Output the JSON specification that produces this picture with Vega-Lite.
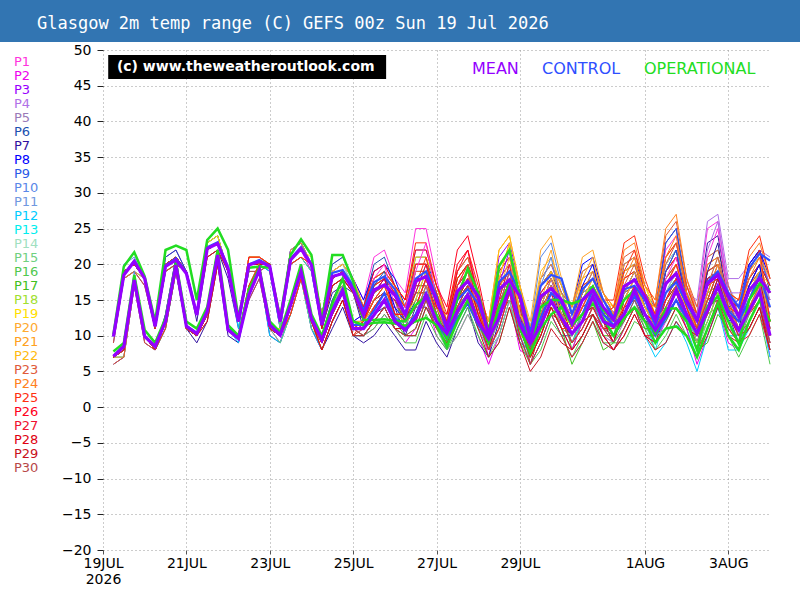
{
"$schema":"https://vega.github.io/schema/vega-lite/v6.json",
"width":667,"height":500,
"autosize":{"type":"none"},
"padding":{"left":103,"top":50,"right":30,"bottom":50},
"background":"white",
"config":{"view":{"stroke":null},"font":"DejaVu Sans"},
"datasets":{
"hi":[
{"h":6,"P1":10,"P2":10,"P3":10,"P4":10,"P5":10,"P6":10,"P7":9,"P8":10,"P9":10,"P10":10,"P11":10,"P12":10,"P13":10,"P14":10,"P15":10,"P16":10,"P17":10,"P18":10,"P19":10,"P20":10,"P21":10,"P22":10,"P23":9,"P24":10,"P25":10,"P26":10,"P27":10,"P28":10,"P29":10,"P30":10,"M":9.9,"C":9.9,"O":10.2},
{"h":12,"P1":19,"P2":19,"P3":19,"P4":19,"P5":18,"P6":19,"P7":18,"P8":19,"P9":19,"P10":20,"P11":19,"P12":18,"P13":19,"P14":19,"P15":19,"P16":19,"P17":19,"P18":19,"P19":19,"P20":19,"P21":19,"P22":18,"P23":18,"P24":19,"P25":19,"P26":19,"P27":19,"P28":19,"P29":19,"P30":19,"M":18.5,"C":18.6,"O":19.7},
{"h":18,"P1":20,"P2":20,"P3":20,"P4":20,"P5":19,"P6":20,"P7":19,"P8":20,"P9":20,"P10":21,"P11":20,"P12":19,"P13":20,"P14":20,"P15":20,"P16":20,"P17":20,"P18":20,"P19":20,"P20":20,"P21":20,"P22":19,"P23":19,"P24":20,"P25":20,"P26":20,"P27":20,"P28":20,"P29":20,"P30":20,"M":20.4,"C":20.5,"O":21.7},
{"h":24,"P1":18,"P2":18,"P3":18,"P4":18,"P5":18,"P6":18,"P7":17,"P8":18,"P9":18,"P10":18,"P11":18,"P12":18,"P13":18,"P14":18,"P15":18,"P16":18,"P17":18,"P18":18,"P19":18,"P20":18,"P21":18,"P22":18,"P23":17,"P24":18,"P25":18,"P26":18,"P27":18,"P28":18,"P29":18,"P30":18,"M":18,"C":18.1,"O":18.3},
{"h":30,"P1":11,"P2":11,"P3":11,"P4":11,"P5":11,"P6":11,"P7":11,"P8":11,"P9":11,"P10":11,"P11":11,"P12":11,"P13":11,"P14":11,"P15":11,"P16":11,"P17":11,"P18":11,"P19":11,"P20":11,"P21":11,"P22":11,"P23":11,"P24":11,"P25":11,"P26":11,"P27":11,"P28":11,"P29":11,"P30":11,"M":11.3,"C":11.4,"O":12},
{"h":36,"P1":20,"P2":20,"P3":21,"P4":20,"P5":20,"P6":21,"P7":19,"P8":20,"P9":20,"P10":20,"P11":20,"P12":19,"P13":20,"P14":20,"P15":20,"P16":19,"P17":20,"P18":20,"P19":20,"P20":20,"P21":20,"P22":20,"P23":20,"P24":20,"P25":19,"P26":20,"P27":20,"P28":20,"P29":20,"P30":20,"M":19.7,"C":19.8,"O":22},
{"h":42,"P1":21,"P2":21,"P3":22,"P4":21,"P5":21,"P6":22,"P7":20,"P8":21,"P9":21,"P10":21,"P11":21,"P12":20,"P13":21,"P14":21,"P15":21,"P16":20,"P17":21,"P18":21,"P19":21,"P20":21,"P21":21,"P22":21,"P23":21,"P24":21,"P25":20,"P26":21,"P27":21,"P28":21,"P29":21,"P30":21,"M":20.6,"C":20.8,"O":22.6},
{"h":48,"P1":19,"P2":19,"P3":19,"P4":19,"P5":19,"P6":19,"P7":19,"P8":19,"P9":19,"P10":19,"P11":19,"P12":19,"P13":19,"P14":19,"P15":19,"P16":19,"P17":19,"P18":19,"P19":19,"P20":19,"P21":19,"P22":19,"P23":19,"P24":19,"P25":19,"P26":19,"P27":19,"P28":19,"P29":19,"P30":19,"M":18.7,"C":18.9,"O":22},
{"h":54,"P1":13,"P2":13,"P3":13,"P4":13,"P5":13,"P6":13,"P7":12,"P8":13,"P9":13,"P10":13,"P11":13,"P12":13,"P13":13,"P14":13,"P15":13,"P16":13,"P17":13,"P18":13,"P19":13,"P20":13,"P21":13,"P22":13,"P23":13,"P24":13,"P25":13,"P26":13,"P27":13,"P28":13,"P29":13,"P30":13,"M":12.9,"C":13,"O":15},
{"h":60,"P1":23,"P2":22,"P3":22,"P4":23,"P5":22,"P6":23,"P7":21,"P8":22,"P9":23,"P10":22,"P11":22,"P12":22,"P13":22,"P14":22,"P15":22,"P16":22,"P17":22,"P18":23,"P19":23,"P20":22,"P21":22,"P22":22,"P23":21,"P24":22,"P25":22,"P26":22,"P27":22,"P28":22,"P29":21,"P30":22,"M":22.2,"C":22.4,"O":23.4},
{"h":66,"P1":24,"P2":23,"P3":23,"P4":24,"P5":23,"P6":24,"P7":22,"P8":23,"P9":24,"P10":23,"P11":23,"P12":23,"P13":23,"P14":23,"P15":23,"P16":23,"P17":23,"P18":24,"P19":24,"P20":23,"P21":23,"P22":23,"P23":22,"P24":23,"P25":23,"P26":23,"P27":23,"P28":23,"P29":22,"P30":23,"M":22.9,"C":23.1,"O":25},
{"h":72,"P1":19,"P2":19,"P3":19,"P4":19,"P5":19,"P6":19,"P7":18,"P8":19,"P9":19,"P10":19,"P11":19,"P12":19,"P13":19,"P14":19,"P15":19,"P16":19,"P17":19,"P18":19,"P19":19,"P20":19,"P21":19,"P22":19,"P23":19,"P24":19,"P25":19,"P26":19,"P27":19,"P28":19,"P29":19,"P30":19,"M":19.4,"C":19.6,"O":22},
{"h":78,"P1":12,"P2":12,"P3":12,"P4":12,"P5":12,"P6":12,"P7":11,"P8":12,"P9":12,"P10":12,"P11":12,"P12":11,"P13":12,"P14":12,"P15":12,"P16":12,"P17":12,"P18":12,"P19":12,"P20":12,"P21":12,"P22":12,"P23":12,"P24":12,"P25":12,"P26":12,"P27":12,"P28":12,"P29":12,"P30":12,"M":12,"C":12.1,"O":12.5},
{"h":84,"P1":20,"P2":19,"P3":20,"P4":20,"P5":20,"P6":21,"P7":20,"P8":21,"P9":20,"P10":20,"P11":19,"P12":20,"P13":20,"P14":21,"P15":20,"P16":20,"P17":20,"P18":20,"P19":21,"P20":21,"P21":20,"P22":21,"P23":20,"P24":20,"P25":20,"P26":21,"P27":20,"P28":20,"P29":20,"P30":19,"M":19.9,"C":20,"O":19.5},
{"h":90,"P1":20,"P2":19,"P3":20,"P4":20,"P5":20,"P6":21,"P7":20,"P8":21,"P9":20,"P10":20,"P11":19,"P12":20,"P13":20,"P14":21,"P15":20,"P16":20,"P17":20,"P18":20,"P19":21,"P20":21,"P21":20,"P22":21,"P23":20,"P24":20,"P25":20,"P26":21,"P27":20,"P28":20,"P29":20,"P30":19,"M":20.4,"C":20.6,"O":19.7},
{"h":96,"P1":20,"P2":20,"P3":20,"P4":20,"P5":20,"P6":20,"P7":19,"P8":20,"P9":20,"P10":20,"P11":20,"P12":19,"P13":20,"P14":20,"P15":20,"P16":20,"P17":20,"P18":20,"P19":20,"P20":20,"P21":20,"P22":20,"P23":20,"P24":20,"P25":20,"P26":20,"P27":20,"P28":20,"P29":20,"P30":20,"M":19.7,"C":19.8,"O":19.5},
{"h":102,"P1":12,"P2":11,"P3":12,"P4":12,"P5":12,"P6":12,"P7":11,"P8":12,"P9":12,"P10":12,"P11":12,"P12":11,"P13":12,"P14":12,"P15":11,"P16":12,"P17":12,"P18":12,"P19":13,"P20":12,"P21":12,"P22":12,"P23":12,"P24":12,"P25":12,"P26":12,"P27":12,"P28":12,"P29":12,"P30":12,"M":12,"C":12.1,"O":12.5},
{"h":108,"P1":21,"P2":21,"P3":22,"P4":22,"P5":21,"P6":21,"P7":20,"P8":22,"P9":22,"P10":21,"P11":21,"P12":20,"P13":21,"P14":21,"P15":20,"P16":21,"P17":21,"P18":21,"P19":21,"P20":21,"P21":22,"P22":21,"P23":20,"P24":21,"P25":20,"P26":21,"P27":21,"P28":21,"P29":21,"P30":21,"M":20.6,"C":20.8,"O":21.3},
{"h":114,"P1":22,"P2":22,"P3":23,"P4":23,"P5":22,"P6":22,"P7":21,"P8":23,"P9":23,"P10":22,"P11":22,"P12":21,"P13":22,"P14":22,"P15":21,"P16":22,"P17":22,"P18":22,"P19":22,"P20":22,"P21":23,"P22":22,"P23":21,"P24":22,"P25":21,"P26":22,"P27":22,"P28":22,"P29":22,"P30":22,"M":22.2,"C":22.4,"O":23.5},
{"h":120,"P1":20,"P2":19,"P3":20,"P4":20,"P5":20,"P6":20,"P7":19,"P8":20,"P9":20,"P10":20,"P11":20,"P12":19,"P13":20,"P14":20,"P15":19,"P16":20,"P17":20,"P18":20,"P19":21,"P20":20,"P21":20,"P22":20,"P23":20,"P24":20,"P25":20,"P26":20,"P27":20,"P28":20,"P29":20,"P30":20,"M":19.9,"C":20,"O":21.3},
{"h":126,"P1":13,"P2":11,"P3":13,"P4":13,"P5":11,"P6":13,"P7":11,"P8":13,"P9":12,"P10":12,"P11":12,"P12":11,"P13":12,"P14":12,"P15":12,"P16":11,"P17":12,"P18":12,"P19":13,"P20":13,"P21":12,"P22":12,"P23":11,"P24":12,"P25":11,"P26":12,"P27":12,"P28":12,"P29":11,"P30":12,"M":11.5,"C":11.8,"O":12},
{"h":132,"P1":19,"P2":17,"P3":19,"P4":20,"P5":17,"P6":20,"P7":16,"P8":19,"P9":18,"P10":19,"P11":18,"P12":17,"P13":18,"P14":19,"P15":18,"P16":17,"P17":18,"P18":18,"P19":19,"P20":19,"P21":18,"P22":18,"P23":17,"P24":18,"P25":17,"P26":18,"P27":18,"P28":18,"P29":17,"P30":18,"M":18.3,"C":18.8,"O":21.3},
{"h":138,"P1":20,"P2":18,"P3":20,"P4":21,"P5":18,"P6":21,"P7":17,"P8":20,"P9":19,"P10":20,"P11":19,"P12":18,"P13":19,"P14":20,"P15":19,"P16":18,"P17":19,"P18":19,"P19":20,"P20":20,"P21":19,"P22":19,"P23":18,"P24":19,"P25":18,"P26":19,"P27":19,"P28":19,"P29":18,"P30":19,"M":18.7,"C":19.2,"O":21.3},
{"h":144,"P1":18,"P2":16,"P3":18,"P4":18,"P5":16,"P6":18,"P7":16,"P8":18,"P9":17,"P10":17,"P11":17,"P12":16,"P13":17,"P14":17,"P15":17,"P16":16,"P17":17,"P18":17,"P19":18,"P20":18,"P21":17,"P22":17,"P23":16,"P24":17,"P25":16,"P26":17,"P27":17,"P28":17,"P29":16,"P30":17,"M":16.5,"C":17,"O":17.6},
{"h":150,"P1":15,"P2":12,"P3":13,"P4":14,"P5":13,"P6":14,"P7":11,"P8":15,"P9":14,"P10":14,"P11":13,"P12":12,"P13":12,"P14":13,"P15":12,"P16":12,"P17":13,"P18":13,"P19":14,"P20":14,"P21":13,"P22":14,"P23":13,"P24":13,"P25":14,"P26":14,"P27":13,"P28":12,"P29":12,"P30":12,"M":12.9,"C":13.5,"O":12.2},
{"h":156,"P1":21,"P2":14,"P3":17,"P4":19,"P5":16,"P6":20,"P7":13,"P8":19,"P9":18,"P10":18,"P11":17,"P12":15,"P13":15,"P14":16,"P15":15,"P16":14,"P17":16,"P18":17,"P19":18,"P20":18,"P21":17,"P22":17,"P23":16,"P24":17,"P25":18,"P26":19,"P27":17,"P28":15,"P29":15,"P30":15,"M":16.4,"C":17.5,"O":12.2},
{"h":162,"P1":22,"P2":15,"P3":18,"P4":20,"P5":17,"P6":21,"P7":14,"P8":20,"P9":19,"P10":19,"P11":18,"P12":16,"P13":16,"P14":17,"P15":16,"P16":15,"P17":17,"P18":18,"P19":19,"P20":19,"P21":18,"P22":18,"P23":17,"P24":18,"P25":19,"P26":20,"P27":18,"P28":16,"P29":16,"P30":16,"M":17.1,"C":18.3,"O":12.3},
{"h":168,"P1":18,"P2":15,"P3":16,"P4":17,"P5":16,"P6":17,"P7":14,"P8":18,"P9":17,"P10":17,"P11":16,"P12":15,"P13":15,"P14":16,"P15":15,"P16":15,"P17":16,"P18":16,"P19":17,"P20":17,"P21":16,"P22":17,"P23":16,"P24":16,"P25":17,"P26":17,"P27":16,"P28":15,"P29":15,"P30":15,"M":15.7,"C":16.5,"O":12.1},
{"h":174,"P1":16,"P2":11,"P3":14,"P4":14,"P5":13,"P6":14,"P7":10,"P8":14,"P9":13,"P10":15,"P11":13,"P12":13,"P13":12,"P14":14,"P15":12,"P16":11,"P17":12,"P18":13,"P19":15,"P20":14,"P21":13,"P22":14,"P23":14,"P24":14,"P25":15,"P26":15,"P27":14,"P28":13,"P29":12,"P30":12,"M":12.9,"C":13,"O":12},
{"h":180,"P1":25,"P2":17,"P3":20,"P4":20,"P5":19,"P6":21,"P7":14,"P8":20,"P9":19,"P10":22,"P11":18,"P12":18,"P13":16,"P14":19,"P15":16,"P16":15,"P17":17,"P18":18,"P19":21,"P20":20,"P21":18,"P22":20,"P23":19,"P24":20,"P25":23,"P26":22,"P27":20,"P28":18,"P29":16,"P30":17,"M":17.6,"C":18,"O":14.3},
{"h":186,"P1":25,"P2":17,"P3":20,"P4":20,"P5":19,"P6":21,"P7":14,"P8":20,"P9":19,"P10":22,"P11":18,"P12":18,"P13":16,"P14":19,"P15":16,"P16":15,"P17":17,"P18":18,"P19":21,"P20":20,"P21":18,"P22":20,"P23":19,"P24":20,"P25":23,"P26":22,"P27":20,"P28":18,"P29":16,"P30":17,"M":18.3,"C":19,"O":15.5},
{"h":192,"P1":18,"P2":13,"P3":16,"P4":16,"P5":15,"P6":16,"P7":12,"P8":16,"P9":15,"P10":17,"P11":15,"P12":15,"P13":14,"P14":16,"P15":14,"P16":13,"P17":14,"P18":15,"P19":17,"P20":16,"P21":15,"P22":16,"P23":16,"P24":16,"P25":17,"P26":17,"P27":16,"P28":15,"P29":14,"P30":14,"M":15,"C":15.5,"O":12.9},
{"h":198,"P1":12,"P2":9,"P3":12,"P4":11,"P5":12,"P6":11,"P7":8,"P8":11,"P9":10,"P10":12,"P11":10,"P12":11,"P13":11,"P14":12,"P15":9,"P16":9,"P17":11,"P18":10,"P19":12,"P20":12,"P21":12,"P22":12,"P23":12,"P24":11,"P25":13,"P26":14,"P27":11,"P28":12,"P29":10,"P30":11,"M":11.3,"C":10.5,"O":9.6},
{"h":204,"P1":20,"P2":13,"P3":19,"P4":16,"P5":18,"P6":17,"P7":14,"P8":17,"P9":15,"P10":18,"P11":15,"P12":17,"P13":15,"P14":18,"P15":13,"P16":14,"P17":16,"P18":15,"P19":18,"P20":17,"P21":18,"P22":19,"P23":19,"P24":16,"P25":20,"P26":22,"P27":17,"P28":18,"P29":15,"P30":16,"M":16.2,"C":15,"O":15.2},
{"h":210,"P1":22,"P2":15,"P3":21,"P4":18,"P5":20,"P6":19,"P7":16,"P8":19,"P9":17,"P10":20,"P11":17,"P12":19,"P13":17,"P14":20,"P15":15,"P16":16,"P17":18,"P18":17,"P19":20,"P20":19,"P21":20,"P22":21,"P23":21,"P24":18,"P25":22,"P26":24,"P27":19,"P28":20,"P29":17,"P30":18,"M":17.6,"C":16.5,"O":19.4},
{"h":216,"P1":16,"P2":13,"P3":16,"P4":15,"P5":16,"P6":15,"P7":12,"P8":15,"P9":14,"P10":16,"P11":14,"P12":15,"P13":15,"P14":16,"P15":13,"P16":13,"P17":15,"P18":14,"P19":16,"P20":16,"P21":16,"P22":16,"P23":16,"P24":15,"P25":17,"P26":18,"P27":15,"P28":16,"P29":14,"P30":15,"M":15.5,"C":14.5,"O":16},
{"h":222,"P1":11,"P2":7,"P3":12,"P4":10,"P5":10,"P6":9,"P7":8,"P8":10,"P9":11,"P10":12,"P11":9,"P12":9,"P13":10,"P14":11,"P15":8,"P16":8,"P17":10,"P18":10,"P19":10,"P20":12,"P21":12,"P22":12,"P23":11,"P24":9,"P25":10,"P26":11,"P27":9,"P28":10,"P29":8,"P30":10,"M":10.1,"C":10.5,"O":10.5},
{"h":228,"P1":18,"P2":14,"P3":21,"P4":17,"P5":17,"P6":15,"P7":16,"P8":16,"P9":18,"P10":19,"P11":14,"P12":15,"P13":16,"P14":19,"P15":14,"P16":13,"P17":17,"P18":16,"P19":17,"P20":20,"P21":22,"P22":22,"P23":18,"P24":15,"P25":17,"P26":19,"P27":15,"P28":17,"P29":13,"P30":17,"M":16.5,"C":17.5,"O":19.7},
{"h":234,"P1":20,"P2":16,"P3":23,"P4":19,"P5":19,"P6":17,"P7":18,"P8":18,"P9":20,"P10":21,"P11":16,"P12":17,"P13":18,"P14":21,"P15":16,"P16":15,"P17":19,"P18":18,"P19":19,"P20":22,"P21":24,"P22":24,"P23":20,"P24":17,"P25":19,"P26":21,"P27":17,"P28":19,"P29":15,"P30":19,"M":17.8,"C":19,"O":22},
{"h":240,"P1":16,"P2":12,"P3":17,"P4":15,"P5":15,"P6":14,"P7":13,"P8":15,"P9":16,"P10":17,"P11":14,"P12":14,"P13":15,"P14":16,"P15":13,"P16":13,"P17":15,"P18":15,"P19":15,"P20":17,"P21":17,"P22":17,"P23":16,"P24":14,"P25":15,"P26":16,"P27":14,"P28":15,"P29":13,"P30":15,"M":15.5,"C":16,"O":15.5},
{"h":246,"P1":9,"P2":8,"P3":10,"P4":10,"P5":8,"P6":7,"P7":9,"P8":10,"P9":11,"P10":11,"P11":8,"P12":7,"P13":9,"P14":9,"P15":8,"P16":7,"P17":8,"P18":10,"P19":9,"P20":12,"P21":11,"P22":11,"P23":9,"P24":10,"P25":8,"P26":9,"P27":7,"P28":8,"P29":6,"P30":9,"M":9.4,"C":10.5,"O":8.5},
{"h":252,"P1":16,"P2":16,"P3":18,"P4":17,"P5":14,"P6":13,"P7":17,"P8":17,"P9":18,"P10":21,"P11":14,"P12":13,"P13":16,"P14":16,"P15":15,"P16":12,"P17":14,"P18":17,"P19":15,"P20":22,"P21":18,"P22":19,"P23":15,"P24":17,"P25":14,"P26":16,"P27":13,"P28":14,"P29":11,"P30":15,"M":15.5,"C":17,"O":14},
{"h":258,"P1":18,"P2":18,"P3":20,"P4":19,"P5":16,"P6":15,"P7":19,"P8":19,"P9":20,"P10":23,"P11":16,"P12":15,"P13":18,"P14":18,"P15":17,"P16":14,"P17":16,"P18":19,"P19":17,"P20":24,"P21":20,"P22":21,"P23":17,"P24":19,"P25":16,"P26":18,"P27":15,"P28":16,"P29":13,"P30":17,"M":16.6,"C":18.5,"O":15},
{"h":264,"P1":15,"P2":14,"P3":16,"P4":16,"P5":14,"P6":13,"P7":15,"P8":16,"P9":17,"P10":17,"P11":14,"P12":13,"P13":15,"P14":15,"P15":14,"P16":13,"P17":14,"P18":16,"P19":15,"P20":18,"P21":17,"P22":17,"P23":15,"P24":16,"P25":14,"P26":15,"P27":13,"P28":14,"P29":12,"P30":15,"M":15,"C":18,"O":15},
{"h":270,"P1":13,"P2":10,"P3":12,"P4":12,"P5":10,"P6":12,"P7":12,"P8":14,"P9":13,"P10":13,"P11":12,"P12":9,"P13":11,"P14":11,"P15":12,"P16":9,"P17":8,"P18":12,"P19":14,"P20":14,"P21":14,"P22":13,"P23":11,"P24":14,"P25":13,"P26":11,"P27":9,"P28":10,"P29":10,"P30":11,"M":11.7,"C":13,"O":14.5},
{"h":276,"P1":17,"P2":15,"P3":16,"P4":16,"P5":13,"P6":16,"P7":16,"P8":20,"P9":19,"P10":17,"P11":16,"P12":12,"P13":15,"P14":14,"P15":16,"P16":13,"P17":12,"P18":15,"P19":18,"P20":18,"P21":21,"P22":17,"P23":14,"P24":19,"P25":17,"P26":14,"P27":12,"P28":13,"P29":13,"P30":14,"M":15,"C":16.5,"O":15},
{"h":282,"P1":18,"P2":16,"P3":17,"P4":17,"P5":14,"P6":17,"P7":17,"P8":21,"P9":20,"P10":18,"P11":17,"P12":13,"P13":16,"P14":15,"P15":17,"P16":14,"P17":13,"P18":16,"P19":19,"P20":19,"P21":22,"P22":18,"P23":15,"P24":20,"P25":18,"P26":15,"P27":13,"P28":14,"P29":14,"P30":15,"M":16.4,"C":18,"O":16.9},
{"h":288,"P1":15,"P2":12,"P3":14,"P4":14,"P5":12,"P6":14,"P7":14,"P8":16,"P9":15,"P10":15,"P11":14,"P12":11,"P13":13,"P14":13,"P15":14,"P16":11,"P17":10,"P18":14,"P19":16,"P20":16,"P21":16,"P22":15,"P23":13,"P24":16,"P25":15,"P26":13,"P27":11,"P28":12,"P29":12,"P30":13,"M":14,"C":15,"O":13.6},
{"h":294,"P1":13,"P2":9,"P3":11,"P4":13,"P5":10,"P6":13,"P7":11,"P8":13,"P9":13,"P10":12,"P11":13,"P12":9,"P13":11,"P14":12,"P15":12,"P16":10,"P17":10,"P18":13,"P19":14,"P20":13,"P21":13,"P22":14,"P23":14,"P24":14,"P25":15,"P26":12,"P27":9,"P28":9,"P29":9,"P30":11,"M":12.2,"C":12.5,"O":12.2},
{"h":300,"P1":20,"P2":15,"P3":17,"P4":19,"P5":16,"P6":19,"P7":17,"P8":20,"P9":19,"P10":17,"P11":19,"P12":15,"P13":16,"P14":18,"P15":17,"P16":13,"P17":15,"P18":18,"P19":19,"P20":18,"P21":19,"P22":20,"P23":21,"P24":22,"P25":23,"P26":18,"P27":15,"P28":14,"P29":14,"P30":16,"M":16.9,"C":16.5,"O":15},
{"h":306,"P1":21,"P2":16,"P3":18,"P4":20,"P5":17,"P6":20,"P7":18,"P8":21,"P9":20,"P10":18,"P11":20,"P12":16,"P13":17,"P14":19,"P15":18,"P16":14,"P17":16,"P18":19,"P19":20,"P20":19,"P21":20,"P22":21,"P23":22,"P24":23,"P25":24,"P26":19,"P27":16,"P28":15,"P29":15,"P30":17,"M":17.8,"C":17,"O":16.4},
{"h":312,"P1":16,"P2":12,"P3":14,"P4":16,"P5":13,"P6":16,"P7":14,"P8":16,"P9":16,"P10":15,"P11":16,"P12":12,"P13":14,"P14":15,"P15":15,"P16":13,"P17":13,"P18":16,"P19":17,"P20":16,"P21":16,"P22":17,"P23":17,"P24":17,"P25":18,"P26":15,"P27":12,"P28":12,"P29":12,"P30":14,"M":15.5,"C":15,"O":13},
{"h":318,"P1":14,"P2":10,"P3":12,"P4":13,"P5":11,"P6":13,"P7":13,"P8":13,"P9":14,"P10":11,"P11":12,"P12":8,"P13":11,"P14":13,"P15":11,"P16":9,"P17":12,"P18":13,"P19":13,"P20":13,"P21":12,"P22":14,"P23":15,"P24":15,"P25":14,"P26":13,"P27":11,"P28":10,"P29":9,"P30":12,"M":12.2,"C":11.5,"O":10.3},
{"h":324,"P1":22,"P2":16,"P3":19,"P4":21,"P5":17,"P6":20,"P7":23,"P8":19,"P9":23,"P10":16,"P11":18,"P12":13,"P13":15,"P14":20,"P15":15,"P16":14,"P17":16,"P18":19,"P19":18,"P20":19,"P21":18,"P22":21,"P23":24,"P24":25,"P25":21,"P26":19,"P27":17,"P28":15,"P29":13,"P30":18,"M":17.3,"C":16,"O":13.8},
{"h":330,"P1":24,"P2":18,"P3":21,"P4":23,"P5":19,"P6":22,"P7":25,"P8":21,"P9":25,"P10":18,"P11":20,"P12":15,"P13":17,"P14":22,"P15":17,"P16":16,"P17":18,"P18":21,"P19":20,"P20":21,"P21":20,"P22":23,"P23":26,"P24":27,"P25":23,"P26":21,"P27":19,"P28":17,"P29":15,"P30":20,"M":18.7,"C":17.5,"O":13.8},
{"h":336,"P1":17,"P2":13,"P3":15,"P4":16,"P5":14,"P6":16,"P7":16,"P8":16,"P9":17,"P10":14,"P11":15,"P12":11,"P13":14,"P14":16,"P15":14,"P16":12,"P17":15,"P18":16,"P19":16,"P20":16,"P21":15,"P22":17,"P23":18,"P24":18,"P25":17,"P26":16,"P27":14,"P28":13,"P29":12,"P30":15,"M":15,"C":14.5,"O":12},
{"h":342,"P1":14,"P2":8,"P3":12,"P4":15,"P5":12,"P6":12,"P7":13,"P8":11,"P9":13,"P10":12,"P11":11,"P12":7,"P13":12,"P14":14,"P15":10,"P16":9,"P17":10,"P18":11,"P19":12,"P20":13,"P21":13,"P22":13,"P23":14,"P24":13,"P25":13,"P26":12,"P27":10,"P28":12,"P29":9,"P30":13,"M":12.2,"C":12,"O":8},
{"h":348,"P1":25,"P2":14,"P3":18,"P4":26,"P5":19,"P6":18,"P7":23,"P8":16,"P9":20,"P10":18,"P11":17,"P12":14,"P13":17,"P14":21,"P15":16,"P16":15,"P17":13,"P18":16,"P19":17,"P20":20,"P21":19,"P22":19,"P23":21,"P24":20,"P25":19,"P26":17,"P27":15,"P28":18,"P29":14,"P30":19,"M":17.3,"C":17.5,"O":14},
{"h":354,"P1":26,"P2":15,"P3":19,"P4":27,"P5":20,"P6":19,"P7":24,"P8":17,"P9":21,"P10":19,"P11":18,"P12":15,"P13":18,"P14":22,"P15":17,"P16":16,"P17":14,"P18":17,"P19":18,"P20":21,"P21":20,"P22":20,"P23":22,"P24":21,"P25":20,"P26":18,"P27":16,"P28":19,"P29":15,"P30":20,"M":18.5,"C":19,"O":15.5},
{"h":360,"P1":17,"P2":11,"P3":15,"P4":18,"P5":15,"P6":15,"P7":16,"P8":14,"P9":16,"P10":15,"P11":14,"P12":10,"P13":15,"P14":17,"P15":13,"P16":12,"P17":13,"P18":14,"P19":15,"P20":16,"P21":16,"P22":16,"P23":17,"P24":16,"P25":16,"P26":15,"P27":13,"P28":15,"P29":12,"P30":16,"M":15.5,"C":16,"O":12},
{"h":366,"P1":14,"P2":10,"P3":12,"P4":18,"P5":14,"P6":11,"P7":13,"P8":15,"P9":14,"P10":14,"P11":11,"P12":10,"P13":13,"P14":14,"P15":12,"P16":9,"P17":11,"P18":13,"P19":14,"P20":13,"P21":13,"P22":15,"P23":13,"P24":15,"P25":15,"P26":12,"P27":11,"P28":14,"P29":11,"P30":12,"M":12.7,"C":14,"O":8.9},
{"h":372,"P1":20,"P2":15,"P3":16,"P4":20,"P5":19,"P6":15,"P7":20,"P8":20,"P9":18,"P10":19,"P11":15,"P12":14,"P13":17,"P14":18,"P15":16,"P16":13,"P17":14,"P18":16,"P19":17,"P20":17,"P21":16,"P22":19,"P23":17,"P24":21,"P25":22,"P26":14,"P27":13,"P28":18,"P29":14,"P30":15,"M":16.4,"C":19.5,"O":15},
{"h":378,"P1":22,"P2":17,"P3":18,"P4":22,"P5":21,"P6":17,"P7":22,"P8":22,"P9":20,"P10":21,"P11":17,"P12":16,"P13":19,"P14":20,"P15":18,"P16":15,"P17":16,"P18":18,"P19":19,"P20":19,"P21":18,"P22":21,"P23":19,"P24":23,"P25":24,"P26":16,"P27":15,"P28":20,"P29":16,"P30":17,"M":18,"C":21.5,"O":17.3},
{"h":384,"P1":17,"P2":13,"P3":15,"P4":21,"P5":17,"P6":14,"P7":16,"P8":18,"P9":17,"P10":17,"P11":14,"P12":13,"P13":16,"P14":17,"P15":15,"P16":12,"P17":14,"P18":16,"P19":17,"P20":16,"P21":16,"P22":18,"P23":16,"P24":18,"P25":18,"P26":15,"P27":14,"P28":17,"P29":14,"P30":15,"M":16,"C":20.5,"O":16.4}
],
"lo":[
{"h":6,"P1":7,"P2":7,"P3":7,"P4":7,"P5":7,"P6":7,"P7":6,"P8":7,"P9":7,"P10":7,"P11":7,"P12":7,"P13":7,"P14":7,"P15":7,"P16":7,"P17":7,"P18":7,"P19":7,"P20":7,"P21":7,"P22":7,"P23":6,"P24":7,"P25":7,"P26":7,"P27":7,"P28":7,"P29":7,"P30":7,"M":7.1,"C":7.2,"O":7.8},
{"h":12,"P1":8,"P2":8,"P3":8,"P4":8,"P5":7,"P6":8,"P7":7,"P8":8,"P9":8,"P10":9,"P11":8,"P12":7,"P13":8,"P14":8,"P15":8,"P16":8,"P17":8,"P18":8,"P19":8,"P20":8,"P21":8,"P22":7,"P23":7,"P24":8,"P25":8,"P26":8,"P27":8,"P28":8,"P29":8,"P30":8,"M":8.5,"C":8.6,"O":9},
{"h":18,"P1":18,"P2":18,"P3":18,"P4":18,"P5":17,"P6":18,"P7":17,"P8":18,"P9":18,"P10":19,"P11":18,"P12":17,"P13":18,"P14":18,"P15":18,"P16":18,"P17":18,"P18":18,"P19":18,"P20":18,"P21":18,"P22":17,"P23":17,"P24":18,"P25":18,"P26":18,"P27":18,"P28":18,"P29":18,"P30":18,"M":17.8,"C":17.9,"O":18.5},
{"h":24,"P1":10,"P2":10,"P3":10,"P4":10,"P5":10,"P6":10,"P7":9,"P8":10,"P9":10,"P10":10,"P11":10,"P12":10,"P13":10,"P14":10,"P15":10,"P16":10,"P17":10,"P18":10,"P19":10,"P20":10,"P21":10,"P22":10,"P23":9,"P24":10,"P25":10,"P26":10,"P27":10,"P28":10,"P29":10,"P30":10,"M":9.9,"C":10,"O":10.8},
{"h":30,"P1":8,"P2":8,"P3":8,"P4":8,"P5":8,"P6":8,"P7":8,"P8":8,"P9":8,"P10":8,"P11":8,"P12":8,"P13":8,"P14":8,"P15":8,"P16":8,"P17":8,"P18":8,"P19":8,"P20":8,"P21":8,"P22":8,"P23":8,"P24":8,"P25":8,"P26":8,"P27":8,"P28":8,"P29":8,"P30":8,"M":8.5,"C":8.6,"O":9},
{"h":36,"P1":12,"P2":12,"P3":13,"P4":12,"P5":12,"P6":13,"P7":11,"P8":12,"P9":12,"P10":12,"P11":12,"P12":11,"P13":12,"P14":12,"P15":12,"P16":11,"P17":12,"P18":12,"P19":12,"P20":12,"P21":12,"P22":12,"P23":12,"P24":12,"P25":11,"P26":12,"P27":12,"P28":12,"P29":12,"P30":12,"M":12,"C":12.1,"O":12.5},
{"h":42,"P1":20,"P2":20,"P3":21,"P4":20,"P5":20,"P6":21,"P7":19,"P8":20,"P9":20,"P10":20,"P11":20,"P12":19,"P13":20,"P14":20,"P15":20,"P16":19,"P17":20,"P18":20,"P19":20,"P20":20,"P21":20,"P22":20,"P23":20,"P24":20,"P25":19,"P26":20,"P27":20,"P28":20,"P29":20,"P30":20,"M":19.9,"C":20,"O":20.3},
{"h":48,"P1":11,"P2":11,"P3":11,"P4":11,"P5":11,"P6":11,"P7":11,"P8":11,"P9":11,"P10":11,"P11":11,"P12":11,"P13":11,"P14":11,"P15":11,"P16":11,"P17":11,"P18":11,"P19":11,"P20":11,"P21":11,"P22":11,"P23":11,"P24":11,"P25":11,"P26":11,"P27":11,"P28":11,"P29":11,"P30":11,"M":11.3,"C":11.4,"O":12},
{"h":54,"P1":10,"P2":10,"P3":10,"P4":10,"P5":10,"P6":10,"P7":9,"P8":10,"P9":10,"P10":10,"P11":10,"P12":10,"P13":10,"P14":10,"P15":10,"P16":10,"P17":10,"P18":10,"P19":10,"P20":10,"P21":10,"P22":10,"P23":10,"P24":10,"P25":10,"P26":10,"P27":10,"P28":10,"P29":10,"P30":10,"M":10.3,"C":10.4,"O":11},
{"h":60,"P1":14,"P2":13,"P3":13,"P4":14,"P5":13,"P6":14,"P7":12,"P8":13,"P9":14,"P10":13,"P11":13,"P12":13,"P13":13,"P14":13,"P15":13,"P16":13,"P17":13,"P18":14,"P19":14,"P20":13,"P21":13,"P22":13,"P23":12,"P24":13,"P25":13,"P26":13,"P27":13,"P28":13,"P29":12,"P30":13,"M":13.4,"C":13.6,"O":14},
{"h":66,"P1":22,"P2":21,"P3":21,"P4":22,"P5":21,"P6":22,"P7":20,"P8":21,"P9":22,"P10":21,"P11":21,"P12":21,"P13":21,"P14":21,"P15":21,"P16":21,"P17":21,"P18":22,"P19":22,"P20":21,"P21":21,"P22":21,"P23":20,"P24":21,"P25":21,"P26":21,"P27":21,"P28":21,"P29":20,"P30":21,"M":21.3,"C":21.4,"O":22},
{"h":72,"P1":11,"P2":11,"P3":11,"P4":11,"P5":11,"P6":11,"P7":10,"P8":11,"P9":11,"P10":11,"P11":11,"P12":11,"P13":11,"P14":11,"P15":11,"P16":11,"P17":11,"P18":11,"P19":11,"P20":11,"P21":11,"P22":11,"P23":11,"P24":11,"P25":11,"P26":11,"P27":11,"P28":11,"P29":11,"P30":11,"M":10.8,"C":11,"O":11.5},
{"h":78,"P1":10,"P2":10,"P3":10,"P4":10,"P5":10,"P6":10,"P7":9,"P8":10,"P9":10,"P10":10,"P11":10,"P12":9,"P13":10,"P14":10,"P15":10,"P16":10,"P17":10,"P18":10,"P19":10,"P20":10,"P21":10,"P22":10,"P23":10,"P24":10,"P25":10,"P26":10,"P27":10,"P28":10,"P29":10,"P30":10,"M":9.6,"C":9.7,"O":10},
{"h":84,"P1":16,"P2":15,"P3":16,"P4":16,"P5":16,"P6":17,"P7":16,"P8":17,"P9":16,"P10":16,"P11":15,"P12":16,"P13":16,"P14":17,"P15":16,"P16":16,"P17":16,"P18":16,"P19":17,"P20":17,"P21":16,"P22":17,"P23":16,"P24":16,"P25":16,"P26":17,"P27":16,"P28":16,"P29":16,"P30":15,"M":15.7,"C":15.8,"O":16.5},
{"h":90,"P1":19,"P2":18,"P3":19,"P4":19,"P5":19,"P6":20,"P7":19,"P8":20,"P9":19,"P10":19,"P11":18,"P12":19,"P13":19,"P14":20,"P15":19,"P16":19,"P17":19,"P18":19,"P19":20,"P20":20,"P21":19,"P22":20,"P23":19,"P24":19,"P25":19,"P26":20,"P27":19,"P28":19,"P29":19,"P30":18,"M":19.2,"C":19.3,"O":19.5},
{"h":96,"P1":11,"P2":11,"P3":11,"P4":11,"P5":11,"P6":11,"P7":10,"P8":11,"P9":11,"P10":11,"P11":11,"P12":10,"P13":11,"P14":11,"P15":11,"P16":11,"P17":11,"P18":11,"P19":11,"P20":11,"P21":11,"P22":11,"P23":11,"P24":11,"P25":11,"P26":11,"P27":11,"P28":11,"P29":11,"P30":11,"M":11.5,"C":11.6,"O":12},
{"h":102,"P1":10,"P2":9,"P3":10,"P4":10,"P5":10,"P6":10,"P7":9,"P8":10,"P9":10,"P10":10,"P11":10,"P12":9,"P13":10,"P14":10,"P15":9,"P16":10,"P17":10,"P18":10,"P19":11,"P20":10,"P21":10,"P22":10,"P23":10,"P24":10,"P25":10,"P26":10,"P27":10,"P28":10,"P29":10,"P30":10,"M":10.1,"C":10.2,"O":10.5},
{"h":108,"P1":14,"P2":14,"P3":15,"P4":15,"P5":14,"P6":14,"P7":13,"P8":15,"P9":15,"P10":14,"P11":14,"P12":13,"P13":14,"P14":14,"P15":13,"P16":14,"P17":14,"P18":14,"P19":14,"P20":14,"P21":15,"P22":14,"P23":13,"P24":14,"P25":13,"P26":14,"P27":14,"P28":14,"P29":14,"P30":14,"M":14.3,"C":14.5,"O":15},
{"h":114,"P1":19,"P2":19,"P3":20,"P4":20,"P5":19,"P6":19,"P7":18,"P8":20,"P9":20,"P10":19,"P11":19,"P12":18,"P13":19,"P14":19,"P15":18,"P16":19,"P17":19,"P18":19,"P19":19,"P20":19,"P21":20,"P22":19,"P23":18,"P24":19,"P25":18,"P26":19,"P27":19,"P28":19,"P29":19,"P30":19,"M":19,"C":19.2,"O":20},
{"h":120,"P1":12,"P2":11,"P3":12,"P4":12,"P5":12,"P6":12,"P7":11,"P8":12,"P9":12,"P10":12,"P11":12,"P12":11,"P13":12,"P14":12,"P15":11,"P16":12,"P17":12,"P18":12,"P19":13,"P20":12,"P21":12,"P22":12,"P23":12,"P24":12,"P25":12,"P26":12,"P27":12,"P28":12,"P29":12,"P30":12,"M":12.4,"C":12.5,"O":13},
{"h":126,"P1":10,"P2":8,"P3":10,"P4":10,"P5":8,"P6":10,"P7":8,"P8":10,"P9":9,"P10":9,"P11":9,"P12":8,"P13":9,"P14":9,"P15":9,"P16":8,"P17":9,"P18":9,"P19":10,"P20":10,"P21":9,"P22":9,"P23":8,"P24":9,"P25":8,"P26":9,"P27":9,"P28":9,"P29":8,"P30":9,"M":9.4,"C":9.6,"O":10},
{"h":132,"P1":14,"P2":12,"P3":14,"P4":15,"P5":12,"P6":15,"P7":11,"P8":14,"P9":13,"P10":14,"P11":13,"P12":12,"P13":13,"P14":14,"P15":13,"P16":12,"P17":13,"P18":13,"P19":14,"P20":14,"P21":13,"P22":13,"P23":12,"P24":13,"P25":12,"P26":13,"P27":13,"P28":13,"P29":12,"P30":13,"M":13.4,"C":13.8,"O":14.5},
{"h":138,"P1":17,"P2":15,"P3":17,"P4":18,"P5":15,"P6":18,"P7":14,"P8":17,"P9":16,"P10":17,"P11":16,"P12":15,"P13":16,"P14":17,"P15":16,"P16":15,"P17":16,"P18":16,"P19":17,"P20":17,"P21":16,"P22":16,"P23":15,"P24":16,"P25":15,"P26":16,"P27":16,"P28":16,"P29":15,"P30":16,"M":16.2,"C":16.6,"O":18},
{"h":144,"P1":12,"P2":10,"P3":12,"P4":12,"P5":10,"P6":12,"P7":10,"P8":12,"P9":11,"P10":11,"P11":11,"P12":10,"P13":11,"P14":11,"P15":11,"P16":10,"P17":11,"P18":11,"P19":12,"P20":12,"P21":11,"P22":11,"P23":10,"P24":11,"P25":10,"P26":11,"P27":11,"P28":11,"P29":10,"P30":11,"M":11,"C":11.5,"O":12},
{"h":150,"P1":13,"P2":10,"P3":11,"P4":12,"P5":11,"P6":12,"P7":9,"P8":13,"P9":12,"P10":12,"P11":11,"P12":10,"P13":10,"P14":11,"P15":10,"P16":10,"P17":11,"P18":11,"P19":12,"P20":12,"P21":11,"P22":12,"P23":11,"P24":11,"P25":12,"P26":12,"P27":11,"P28":10,"P29":10,"P30":10,"M":11,"C":11.5,"O":11.5},
{"h":156,"P1":18,"P2":11,"P3":14,"P4":16,"P5":13,"P6":17,"P7":10,"P8":16,"P9":15,"P10":15,"P11":14,"P12":12,"P13":12,"P14":13,"P15":12,"P16":11,"P17":13,"P18":14,"P19":15,"P20":15,"P21":14,"P22":14,"P23":13,"P24":14,"P25":15,"P26":16,"P27":14,"P28":12,"P29":12,"P30":12,"M":12.9,"C":13.5,"O":11.8},
{"h":162,"P1":20,"P2":13,"P3":16,"P4":18,"P5":15,"P6":19,"P7":12,"P8":18,"P9":17,"P10":17,"P11":16,"P12":14,"P13":14,"P14":15,"P15":14,"P16":13,"P17":15,"P18":16,"P19":17,"P20":17,"P21":16,"P22":16,"P23":15,"P24":16,"P25":17,"P26":18,"P27":16,"P28":14,"P29":14,"P30":14,"M":15,"C":16,"O":11.9},
{"h":168,"P1":14,"P2":11,"P3":12,"P4":13,"P5":12,"P6":13,"P7":10,"P8":14,"P9":13,"P10":13,"P11":12,"P12":11,"P13":11,"P14":12,"P15":11,"P16":11,"P17":12,"P18":12,"P19":13,"P20":13,"P21":12,"P22":13,"P23":12,"P24":12,"P25":13,"P26":13,"P27":12,"P28":11,"P29":11,"P30":11,"M":12,"C":12.5,"O":11.7},
{"h":174,"P1":14,"P2":9,"P3":12,"P4":12,"P5":11,"P6":12,"P7":8,"P8":12,"P9":11,"P10":13,"P11":11,"P12":11,"P13":10,"P14":12,"P15":10,"P16":9,"P17":10,"P18":11,"P19":13,"P20":12,"P21":11,"P22":12,"P23":12,"P24":12,"P25":13,"P26":13,"P27":12,"P28":11,"P29":10,"P30":10,"M":10.8,"C":11,"O":11.4},
{"h":180,"P1":19,"P2":11,"P3":14,"P4":14,"P5":13,"P6":15,"P7":8,"P8":14,"P9":13,"P10":16,"P11":12,"P12":12,"P13":10,"P14":13,"P15":10,"P16":9,"P17":11,"P18":12,"P19":15,"P20":14,"P21":12,"P22":14,"P23":13,"P24":14,"P25":17,"P26":16,"P27":14,"P28":12,"P29":10,"P30":11,"M":12.5,"C":13,"O":12},
{"h":186,"P1":23,"P2":15,"P3":18,"P4":18,"P5":17,"P6":19,"P7":12,"P8":18,"P9":17,"P10":20,"P11":16,"P12":16,"P13":14,"P14":17,"P15":14,"P16":13,"P17":15,"P18":16,"P19":19,"P20":18,"P21":16,"P22":18,"P23":17,"P24":18,"P25":21,"P26":20,"P27":18,"P28":16,"P29":14,"P30":15,"M":15.7,"C":16,"O":12.5},
{"h":192,"P1":15,"P2":10,"P3":13,"P4":13,"P5":12,"P6":13,"P7":9,"P8":13,"P9":12,"P10":14,"P11":12,"P12":12,"P13":11,"P14":13,"P15":11,"P16":10,"P17":11,"P18":12,"P19":14,"P20":13,"P21":12,"P22":13,"P23":13,"P24":13,"P25":14,"P26":14,"P27":13,"P28":12,"P29":11,"P30":11,"M":12,"C":12,"O":11.5},
{"h":198,"P1":11,"P2":8,"P3":11,"P4":10,"P5":11,"P6":10,"P7":7,"P8":10,"P9":9,"P10":11,"P11":9,"P12":10,"P13":10,"P14":11,"P15":8,"P16":8,"P17":10,"P18":9,"P19":11,"P20":11,"P21":11,"P22":11,"P23":11,"P24":10,"P25":12,"P26":13,"P27":10,"P28":11,"P29":9,"P30":10,"M":10.3,"C":9.5,"O":8.5},
{"h":204,"P1":17,"P2":10,"P3":16,"P4":13,"P5":15,"P6":14,"P7":11,"P8":14,"P9":12,"P10":15,"P11":12,"P12":14,"P13":12,"P14":15,"P15":10,"P16":11,"P17":13,"P18":12,"P19":15,"P20":14,"P21":15,"P22":16,"P23":16,"P24":13,"P25":17,"P26":19,"P27":14,"P28":15,"P29":12,"P30":13,"M":13.4,"C":12.5,"O":12},
{"h":210,"P1":20,"P2":13,"P3":19,"P4":16,"P5":18,"P6":17,"P7":14,"P8":17,"P9":15,"P10":18,"P11":15,"P12":17,"P13":15,"P14":18,"P15":13,"P16":14,"P17":16,"P18":15,"P19":18,"P20":17,"P21":18,"P22":19,"P23":19,"P24":16,"P25":20,"P26":22,"P27":17,"P28":18,"P29":15,"P30":16,"M":15.7,"C":14.5,"O":15},
{"h":216,"P1":13,"P2":10,"P3":13,"P4":12,"P5":13,"P6":12,"P7":9,"P8":12,"P9":11,"P10":13,"P11":11,"P12":12,"P13":12,"P14":13,"P15":10,"P16":10,"P17":12,"P18":11,"P19":13,"P20":13,"P21":13,"P22":13,"P23":13,"P24":12,"P25":14,"P26":15,"P27":12,"P28":13,"P29":11,"P30":12,"M":12,"C":11.5,"O":12},
{"h":222,"P1":10,"P2":6,"P3":11,"P4":9,"P5":9,"P6":8,"P7":7,"P8":9,"P9":10,"P10":11,"P11":8,"P12":8,"P13":9,"P14":10,"P15":7,"P16":7,"P17":9,"P18":9,"P19":9,"P20":11,"P21":11,"P22":11,"P23":10,"P24":8,"P25":9,"P26":10,"P27":8,"P28":9,"P29":7,"P30":9,"M":9.6,"C":9.5,"O":9},
{"h":228,"P1":14,"P2":10,"P3":17,"P4":13,"P5":13,"P6":11,"P7":12,"P8":12,"P9":14,"P10":15,"P11":10,"P12":11,"P13":12,"P14":15,"P15":10,"P16":9,"P17":13,"P18":12,"P19":13,"P20":16,"P21":18,"P22":18,"P23":14,"P24":11,"P25":13,"P26":15,"P27":11,"P28":13,"P29":9,"P30":13,"M":12.5,"C":13,"O":14},
{"h":234,"P1":19,"P2":15,"P3":22,"P4":18,"P5":18,"P6":16,"P7":17,"P8":17,"P9":19,"P10":20,"P11":15,"P12":16,"P13":17,"P14":20,"P15":15,"P16":14,"P17":18,"P18":17,"P19":18,"P20":21,"P21":23,"P22":23,"P23":19,"P24":16,"P25":18,"P26":20,"P27":16,"P28":18,"P29":14,"P30":18,"M":16.6,"C":17.5,"O":17.3},
{"h":240,"P1":12,"P2":8,"P3":13,"P4":11,"P5":11,"P6":10,"P7":9,"P8":11,"P9":12,"P10":13,"P11":10,"P12":10,"P13":11,"P14":12,"P15":9,"P16":9,"P17":11,"P18":11,"P19":11,"P20":13,"P21":13,"P22":13,"P23":12,"P24":10,"P25":11,"P26":12,"P27":10,"P28":11,"P29":9,"P30":11,"M":11.5,"C":12,"O":11},
{"h":246,"P1":8,"P2":7,"P3":9,"P4":9,"P5":7,"P6":6,"P7":8,"P8":9,"P9":10,"P10":10,"P11":7,"P12":6,"P13":8,"P14":8,"P15":7,"P16":6,"P17":7,"P18":9,"P19":8,"P20":11,"P21":10,"P22":10,"P23":8,"P24":9,"P25":7,"P26":8,"P27":6,"P28":7,"P29":5,"P30":8,"M":8.9,"C":9.5,"O":7.5},
{"h":252,"P1":12,"P2":12,"P3":14,"P4":13,"P5":10,"P6":9,"P7":13,"P8":13,"P9":14,"P10":17,"P11":10,"P12":9,"P13":12,"P14":12,"P15":11,"P16":8,"P17":10,"P18":13,"P19":11,"P20":18,"P21":14,"P22":15,"P23":11,"P24":13,"P25":10,"P26":12,"P27":9,"P28":10,"P29":7,"P30":11,"M":11.5,"C":12.5,"O":11},
{"h":258,"P1":16,"P2":16,"P3":18,"P4":17,"P5":14,"P6":13,"P7":17,"P8":17,"P9":18,"P10":21,"P11":14,"P12":13,"P13":16,"P14":16,"P15":15,"P16":12,"P17":14,"P18":17,"P19":15,"P20":22,"P21":18,"P22":19,"P23":15,"P24":17,"P25":14,"P26":16,"P27":13,"P28":14,"P29":11,"P30":15,"M":14.8,"C":16,"O":13},
{"h":264,"P1":12,"P2":11,"P3":13,"P4":13,"P5":11,"P6":10,"P7":12,"P8":13,"P9":14,"P10":14,"P11":11,"P12":10,"P13":12,"P14":12,"P15":11,"P16":10,"P17":11,"P18":13,"P19":12,"P20":15,"P21":14,"P22":14,"P23":12,"P24":13,"P25":11,"P26":12,"P27":10,"P28":11,"P29":9,"P30":12,"M":12.5,"C":14.5,"O":14},
{"h":270,"P1":11,"P2":8,"P3":10,"P4":10,"P5":8,"P6":10,"P7":10,"P8":12,"P9":11,"P10":11,"P11":10,"P12":7,"P13":9,"P14":9,"P15":10,"P16":7,"P17":6,"P18":10,"P19":12,"P20":12,"P21":12,"P22":11,"P23":9,"P24":12,"P25":11,"P26":9,"P27":7,"P28":8,"P29":8,"P30":9,"M":10.3,"C":11.5,"O":11.5},
{"h":276,"P1":14,"P2":12,"P3":13,"P4":13,"P5":10,"P6":13,"P7":13,"P8":17,"P9":16,"P10":14,"P11":13,"P12":9,"P13":12,"P14":11,"P15":13,"P16":10,"P17":9,"P18":12,"P19":15,"P20":15,"P21":18,"P22":14,"P23":11,"P24":16,"P25":14,"P26":11,"P27":9,"P28":10,"P29":10,"P30":11,"M":12,"C":13,"O":13},
{"h":282,"P1":17,"P2":15,"P3":16,"P4":16,"P5":13,"P6":16,"P7":16,"P8":20,"P9":19,"P10":17,"P11":16,"P12":12,"P13":15,"P14":14,"P15":16,"P16":13,"P17":12,"P18":15,"P19":18,"P20":18,"P21":21,"P22":17,"P23":14,"P24":19,"P25":17,"P26":14,"P27":12,"P28":13,"P29":13,"P30":14,"M":15.5,"C":16.5,"O":14.5},
{"h":288,"P1":13,"P2":10,"P3":12,"P4":12,"P5":10,"P6":12,"P7":12,"P8":14,"P9":13,"P10":13,"P11":12,"P12":9,"P13":11,"P14":11,"P15":12,"P16":9,"P17":8,"P18":12,"P19":14,"P20":14,"P21":14,"P22":13,"P23":11,"P24":14,"P25":13,"P26":11,"P27":9,"P28":10,"P29":10,"P30":11,"M":12,"C":13,"O":12.5},
{"h":294,"P1":12,"P2":8,"P3":10,"P4":12,"P5":9,"P6":12,"P7":10,"P8":12,"P9":12,"P10":11,"P11":12,"P12":8,"P13":10,"P14":11,"P15":11,"P16":9,"P17":9,"P18":12,"P19":13,"P20":12,"P21":12,"P22":13,"P23":13,"P24":13,"P25":14,"P26":11,"P27":8,"P28":8,"P29":8,"P30":10,"M":11.3,"C":11.5,"O":10},
{"h":300,"P1":16,"P2":11,"P3":13,"P4":15,"P5":12,"P6":15,"P7":13,"P8":16,"P9":15,"P10":13,"P11":15,"P12":11,"P13":12,"P14":14,"P15":13,"P16":9,"P17":11,"P18":14,"P19":15,"P20":14,"P21":15,"P22":16,"P23":17,"P24":18,"P25":19,"P26":14,"P27":11,"P28":10,"P29":10,"P30":12,"M":13,"C":13,"O":12.5},
{"h":306,"P1":19,"P2":14,"P3":16,"P4":18,"P5":15,"P6":18,"P7":16,"P8":19,"P9":18,"P10":16,"P11":18,"P12":14,"P13":15,"P14":17,"P15":16,"P16":12,"P17":14,"P18":17,"P19":18,"P20":17,"P21":18,"P22":19,"P23":20,"P24":21,"P25":22,"P26":17,"P27":14,"P28":13,"P29":13,"P30":15,"M":16.4,"C":15.5,"O":14},
{"h":312,"P1":14,"P2":10,"P3":12,"P4":14,"P5":11,"P6":14,"P7":12,"P8":14,"P9":14,"P10":13,"P11":14,"P12":10,"P13":12,"P14":13,"P15":13,"P16":11,"P17":11,"P18":14,"P19":15,"P20":14,"P21":14,"P22":15,"P23":15,"P24":15,"P25":16,"P26":13,"P27":10,"P28":10,"P29":10,"P30":12,"M":13,"C":13,"O":12},
{"h":318,"P1":13,"P2":9,"P3":11,"P4":12,"P5":10,"P6":12,"P7":12,"P8":12,"P9":13,"P10":10,"P11":11,"P12":7,"P13":10,"P14":12,"P15":10,"P16":8,"P17":11,"P18":12,"P19":12,"P20":12,"P21":11,"P22":13,"P23":14,"P24":14,"P25":13,"P26":12,"P27":10,"P28":9,"P29":8,"P30":11,"M":10.8,"C":10,"O":9},
{"h":324,"P1":18,"P2":12,"P3":15,"P4":17,"P5":13,"P6":16,"P7":19,"P8":15,"P9":19,"P10":12,"P11":14,"P12":9,"P13":11,"P14":16,"P15":11,"P16":10,"P17":12,"P18":15,"P19":14,"P20":15,"P21":14,"P22":17,"P23":20,"P24":21,"P25":17,"P26":15,"P27":13,"P28":11,"P29":9,"P30":14,"M":13,"C":12.5,"O":11},
{"h":330,"P1":21,"P2":15,"P3":18,"P4":20,"P5":16,"P6":19,"P7":22,"P8":18,"P9":22,"P10":15,"P11":17,"P12":12,"P13":14,"P14":19,"P15":14,"P16":13,"P17":15,"P18":18,"P19":17,"P20":18,"P21":17,"P22":20,"P23":23,"P24":24,"P25":20,"P26":18,"P27":16,"P28":14,"P29":12,"P30":17,"M":16.4,"C":15,"O":11.3},
{"h":336,"P1":15,"P2":11,"P3":13,"P4":14,"P5":12,"P6":14,"P7":14,"P8":14,"P9":15,"P10":12,"P11":13,"P12":9,"P13":12,"P14":14,"P15":12,"P16":10,"P17":13,"P18":14,"P19":14,"P20":14,"P21":13,"P22":15,"P23":16,"P24":16,"P25":15,"P26":14,"P27":12,"P28":11,"P29":10,"P30":13,"M":13,"C":12.5,"O":10},
{"h":342,"P1":12,"P2":6,"P3":10,"P4":13,"P5":10,"P6":10,"P7":11,"P8":9,"P9":11,"P10":10,"P11":9,"P12":5,"P13":10,"P14":12,"P15":8,"P16":7,"P17":8,"P18":9,"P19":10,"P20":11,"P21":11,"P22":11,"P23":12,"P24":11,"P25":11,"P26":10,"P27":8,"P28":10,"P29":7,"P30":11,"M":10.3,"C":10.5,"O":7},
{"h":348,"P1":21,"P2":10,"P3":14,"P4":22,"P5":15,"P6":14,"P7":19,"P8":12,"P9":16,"P10":14,"P11":13,"P12":10,"P13":13,"P14":17,"P15":12,"P16":11,"P17":9,"P18":12,"P19":13,"P20":16,"P21":15,"P22":15,"P23":17,"P24":16,"P25":15,"P26":13,"P27":11,"P28":14,"P29":10,"P30":15,"M":13.5,"C":14,"O":11},
{"h":354,"P1":25,"P2":14,"P3":18,"P4":26,"P5":19,"P6":18,"P7":23,"P8":16,"P9":20,"P10":18,"P11":17,"P12":14,"P13":17,"P14":21,"P15":16,"P16":15,"P17":13,"P18":16,"P19":17,"P20":20,"P21":19,"P22":19,"P23":21,"P24":20,"P25":19,"P26":17,"P27":15,"P28":18,"P29":14,"P30":19,"M":16.9,"C":17,"O":14.5},
{"h":360,"P1":15,"P2":9,"P3":13,"P4":16,"P5":13,"P6":13,"P7":14,"P8":12,"P9":14,"P10":13,"P11":12,"P12":8,"P13":13,"P14":15,"P15":11,"P16":10,"P17":11,"P18":12,"P19":13,"P20":14,"P21":14,"P22":14,"P23":15,"P24":14,"P25":14,"P26":13,"P27":11,"P28":13,"P29":10,"P30":14,"M":13,"C":13.5,"O":10},
{"h":366,"P1":12,"P2":8,"P3":10,"P4":16,"P5":12,"P6":9,"P7":11,"P8":13,"P9":12,"P10":12,"P11":9,"P12":8,"P13":11,"P14":12,"P15":10,"P16":7,"P17":9,"P18":11,"P19":12,"P20":11,"P21":11,"P22":13,"P23":11,"P24":13,"P25":13,"P26":10,"P27":9,"P28":12,"P29":9,"P30":10,"M":10.8,"C":12,"O":8},
{"h":372,"P1":17,"P2":12,"P3":13,"P4":17,"P5":16,"P6":12,"P7":17,"P8":17,"P9":15,"P10":16,"P11":12,"P12":11,"P13":14,"P14":15,"P15":13,"P16":10,"P17":11,"P18":13,"P19":14,"P20":14,"P21":13,"P22":16,"P23":14,"P24":18,"P25":19,"P26":11,"P27":10,"P28":15,"P29":11,"P30":12,"M":13.5,"C":15,"O":12},
{"h":378,"P1":20,"P2":15,"P3":16,"P4":20,"P5":19,"P6":15,"P7":20,"P8":20,"P9":18,"P10":19,"P11":15,"P12":14,"P13":17,"P14":18,"P15":16,"P16":13,"P17":14,"P18":16,"P19":17,"P20":17,"P21":16,"P22":19,"P23":17,"P24":21,"P25":22,"P26":14,"P27":13,"P28":18,"P29":14,"P30":15,"M":16.2,"C":18.5,"O":15},
{"h":384,"P1":11,"P2":7,"P3":9,"P4":15,"P5":11,"P6":8,"P7":10,"P8":12,"P9":11,"P10":11,"P11":8,"P12":7,"P13":10,"P14":11,"P15":9,"P16":6,"P17":8,"P18":10,"P19":11,"P20":10,"P21":10,"P22":12,"P23":10,"P24":12,"P25":12,"P26":9,"P27":8,"P28":11,"P29":8,"P30":9,"M":10,"C":14,"O":12}
]
},
"layer":[
{"data":{"values":[{}]},"mark":{"type":"rect","color":"#3275b2"},
 "encoding":{"x":{"datum":-60,"title":null},"x2":{"datum":405},
  "y":{"datum":58,"title":null,"axis":{"values":[-20,-15,-10,-5,0,5,10,15,20,25,30,35,40,45,50],"title":null,"domain":false,"grid":true,"gridColor":"#999999","gridDash":[1,3],"gridWidth":1,"ticks":true,"tickSize":6,"tickColor":"#222222","labelPadding":6,"labelFont":"DejaVu Sans","labelFontSize":14,"labelColor":"#000000","labelOverlap":false,"labelBound":false}},"y2":{"datum":51.12}}},
{"data":{"values":[{}]},"mark":{"type":"text","text":"Glasgow 2m temp range (C) GEFS 00z Sun 19 Jul 2026","align":"left","baseline":"middle","font":"DejaVu Sans Mono","fontSize":17,"color":"#ffffff"},
 "encoding":{"x":{"datum":-38,"title":null},
  "y":{"datum":53.7,"title":null,"axis":{"values":[-20,-15,-10,-5,0,5,10,15,20,25,30,35,40,45,50],"title":null,"domain":false,"grid":true,"gridColor":"#999999","gridDash":[1,3],"gridWidth":1,"ticks":true,"tickSize":6,"tickColor":"#222222","labelPadding":6,"labelFont":"DejaVu Sans","labelFontSize":14,"labelColor":"#000000","labelOverlap":false,"labelBound":false}}}},
{"encoding":{
 "x":{"field":"h","type":"quantitative","scale":{"domain":[0,384],"nice":false,"zero":false},
  "axis":{"values":[0,48,96,144,192,240,312,360],"title":null,"domain":false,"grid":true,"gridColor":"#999999","gridDash":[1,3],"gridWidth":1,"ticks":true,"tickSize":4,"tickColor":"#555555","labelPadding":2,"labelFont":"DejaVu Sans","labelFontSize":14,"labelColor":"#000000","labelFlush":false,"labelOverlap":false,"labelBound":false,"labelLineHeight":16,"labelExpr":"datum.value == 0 ? ['19JUL', '2026'] : upper(timeFormat(datetime(2026, 6, 19, datum.value), '%-d%b'))"}},
 "y":{"field":"v","type":"quantitative","scale":{"domain":[-20,50],"nice":false,"zero":false},
  "axis":{"values":[-20,-15,-10,-5,0,5,10,15,20,25,30,35,40,45,50],"title":null,"domain":false,"grid":true,"gridColor":"#999999","gridDash":[1,3],"gridWidth":1,"ticks":true,"tickSize":6,"tickColor":"#222222","labelPadding":6,"labelFont":"DejaVu Sans","labelFontSize":14,"labelColor":"#000000","labelOverlap":false,"labelBound":false}}},
 "layer":[
 {"data":{"name":"hi"},"transform":[{"fold":["P1","P2","P3","P4","P5","P6","P7","P8","P9","P10","P11","P12","P13","P14","P15","P16","P17","P18","P19","P20","P21","P22","P23","P24","P25","P26","P27","P28","P29","P30"],"as":["m","v"]}],
  "mark":{"type":"line","strokeWidth":1},
  "encoding":{"color":{"field":"m","type":"nominal",
   "scale":{"domain":["P1","P2","P3","P4","P5","P6","P7","P8","P9","P10","P11","P12","P13","P14","P15","P16","P17","P18","P19","P20","P21","P22","P23","P24","P25","P26","P27","P28","P29","P30"],
    "range":["#ff33dd","#ee00ee","#9900ff","#b070e8","#9a7ab8","#2050b0","#3010a0","#0000ff","#2a5ae8","#5a88e8","#7098e0","#00ccff","#00eeee","#a0e0c0","#70d080","#50c850","#40c020","#a0e030","#ffe000","#ffaa30","#ffa020","#ffbb10","#e05a3a","#ff8020","#ff3010","#ff0020","#f01030","#e00010","#c81020","#b84848"]},
   "legend":{"orient":"none","legendX":-102,"legendY":5,"title":null,"symbolSize":0,"symbolStrokeWidth":0,"symbolOpacity":0,"labelOffset":0,"padding":0,"rowPadding":0,"symbolLimit":50,"labelFont":"DejaVu Sans","labelFontSize":13,"labelColor":{"expr":"scale('color', datum.value)"}}}}},
 {"data":{"name":"lo"},"transform":[{"fold":["P1","P2","P3","P4","P5","P6","P7","P8","P9","P10","P11","P12","P13","P14","P15","P16","P17","P18","P19","P20","P21","P22","P23","P24","P25","P26","P27","P28","P29","P30"],"as":["m","v"]}],
  "mark":{"type":"line","strokeWidth":1},
  "encoding":{"color":{"field":"m","type":"nominal"}}},
 {"data":{"name":"hi"},"transform":[{"fold":["C"],"as":["s","v"]}],"mark":{"type":"line","strokeWidth":2.2},
  "encoding":{"stroke":{"field":"s","type":"nominal","scale":{"domain":["M","C","O"],"range":["#9400ff","#2f4fff","#22dd22"]},
   "legend":{"orient":"none","legendX":353,"legendY":11,"direction":"horizontal","title":null,"symbolSize":0,"symbolStrokeWidth":0,"symbolOpacity":0,"labelOffset":0,"padding":0,"columnPadding":7,"labelFont":"DejaVu Sans","labelFontSize":16,"labelColor":{"expr":"scale('stroke', datum.value)"},"labelExpr":"datum.label == 'M' ? 'MEAN' : datum.label == 'C' ? 'CONTROL' : 'OPERATIONAL'"}}}},
 {"data":{"name":"lo"},"transform":[{"fold":["C"],"as":["s","v"]}],"mark":{"type":"line","strokeWidth":2.2},"encoding":{"stroke":{"field":"s","type":"nominal"}}},
 {"data":{"name":"hi"},"transform":[{"fold":["O"],"as":["s","v"]}],"mark":{"type":"line","strokeWidth":2.5},"encoding":{"stroke":{"field":"s","type":"nominal"}}},
 {"data":{"name":"lo"},"transform":[{"fold":["O"],"as":["s","v"]}],"mark":{"type":"line","strokeWidth":2.5},"encoding":{"stroke":{"field":"s","type":"nominal"}}},
 {"data":{"name":"hi"},"transform":[{"fold":["M"],"as":["s","v"]}],"mark":{"type":"line","strokeWidth":3.2},"encoding":{"stroke":{"field":"s","type":"nominal"}}},
 {"data":{"name":"lo"},"transform":[{"fold":["M"],"as":["s","v"]}],"mark":{"type":"line","strokeWidth":3.2},"encoding":{"stroke":{"field":"s","type":"nominal"}}}
 ]},
{"data":{"values":[{}]},"mark":{"type":"rect","color":"#000000"},
 "encoding":{"x":{"datum":3,"title":null},"x2":{"datum":163},
  "y":{"datum":49.3,"title":null,"axis":{"values":[-20,-15,-10,-5,0,5,10,15,20,25,30,35,40,45,50],"title":null,"domain":false,"grid":true,"gridColor":"#999999","gridDash":[1,3],"gridWidth":1,"ticks":true,"tickSize":6,"tickColor":"#222222","labelPadding":6,"labelFont":"DejaVu Sans","labelFontSize":14,"labelColor":"#000000","labelOverlap":false,"labelBound":false}},"y2":{"datum":45.94}}},
{"data":{"values":[{}]},"mark":{"type":"text","text":"(c) www.theweatheroutlook.com","align":"left","baseline":"middle","font":"DejaVu Sans","fontWeight":"bold","fontSize":14,"color":"#ffffff"},
 "encoding":{"x":{"datum":8,"title":null},
  "y":{"datum":47.62,"title":null,"axis":{"values":[-20,-15,-10,-5,0,5,10,15,20,25,30,35,40,45,50],"title":null,"domain":false,"grid":true,"gridColor":"#999999","gridDash":[1,3],"gridWidth":1,"ticks":true,"tickSize":6,"tickColor":"#222222","labelPadding":6,"labelFont":"DejaVu Sans","labelFontSize":14,"labelColor":"#000000","labelOverlap":false,"labelBound":false}}}}
]
}
